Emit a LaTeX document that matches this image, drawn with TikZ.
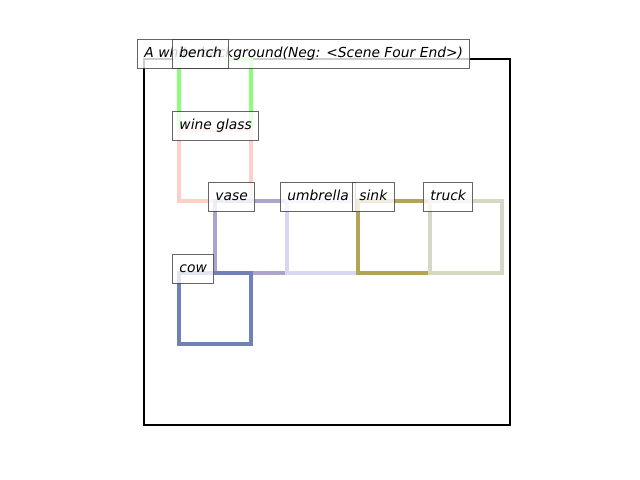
\documentclass[tikz,border=0pt]{standalone}
\usepackage{fontspec}
\setmainfont{DejaVu Sans}
\begin{document}
\begin{tikzpicture}[x=0.72bp,y=-0.72bp,
  lbl/.style={draw=black!75,fill=white,fill opacity=0.8,text opacity=1,draw opacity=0.8,line width=0.7bp,
    font=\fontsize{10}{12}\selectfont\itshape,anchor=west,minimum height=20.2bp,inner xsep=5bp,inner ysep=0pt,
    text height=7.6pt,text depth=2.2pt},
  bbox/.style={line width=2.2bp,line join=miter},
  frame/.style={line width=1.5bp,draw=black}]
\useasboundingbox (0,0) rectangle (640,480);
\definecolor{cbench}{HTML}{88FF77}
\definecolor{cwine}{HTML}{FFD0C8}
\definecolor{cvase}{HTML}{ACA4CE}
\definecolor{cumb}{HTML}{D8D6F0}
\definecolor{csink}{HTML}{B2A458}
\definecolor{ctruck}{HTML}{D6D8C4}
\definecolor{ccow}{HTML}{7080B8}
\draw[frame] (144,59) rectangle (510,425);
\draw[bbox,draw=cbench] (179,59) rectangle (251,130);
\draw[bbox,draw=cwine] (179,130) rectangle (251,201);
\draw[bbox,draw=cvase] (215,201) rectangle (287,273);
\draw[bbox,draw=cumb] (287,201) rectangle (358,273);
\draw[bbox,draw=csink] (358,201) rectangle (430,273);
\draw[bbox,draw=ctruck] (430,201) rectangle (502,273);
\draw[bbox,draw=ccow] (179,273) rectangle (251,344);
\node[lbl] (title) at (137,54) {A white background(Neg: <Scene Four End>)};
\node[lbl] (bench) at (172,54) {bench};
\node[lbl] (wine) at (172,126) {wine glass};
\node[lbl] (vase) at (208,197) {vase};
\node[lbl] (umbrella) at (280,197) {umbrella};
\node[lbl] (sink) at (352,197) {sink};
\node[lbl] (truck) at (423,197) {truck};
\node[lbl] (cow) at (172,269) {cow};
\end{tikzpicture}
\end{document}
